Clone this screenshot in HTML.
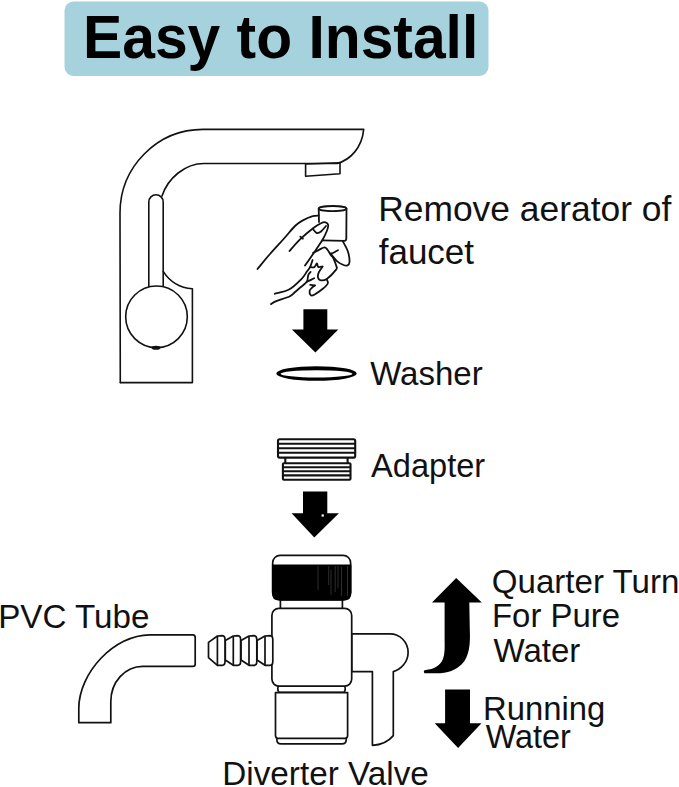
<!DOCTYPE html>
<html><head><meta charset="utf-8">
<style>
html,body{margin:0;padding:0;background:#fff;}
body{width:679px;height:787px;overflow:hidden;position:relative;}
svg{position:absolute;left:0;top:0;}
text{font-family:"Liberation Sans",sans-serif;fill:#111;}
</style></head><body>
<svg width="679" height="787" viewBox="0 0 679 787">
<!-- title -->
<rect x="64.5" y="1.5" width="424" height="74.5" rx="9" fill="#a5d2dc"/>
<text transform="translate(83,57.9) scale(1,1.04)" x="0" y="0" font-size="58.8" font-weight="bold" style="fill:#000">Easy to Install</text>

<g fill="none" stroke="#111" stroke-width="1.6" stroke-linecap="round" stroke-linejoin="round">
<!-- faucet -->
<path d="M120.3,382.6 L120,213 C120,167 157,129.4 203,129.4 L363.7,129.4 C362,148 350,160 337,163.5 L204,163.5 C185,163.5 168,178 162,196"/>
<path d="M148.8,286.5 L148.8,202 A7.2,7.2 0 0 1 163.2,202 L163.2,286.5"/>
<path d="M163.2,271.4 C170,282 180,288 192.4,288.8 L192.4,382.6 L120.3,382.6"/>
<circle cx="156.5" cy="316.8" r="30.8" fill="#fff"/>
<path d="M305.6,164 L340,162.8 L340,173.8 L305.6,176.2 Z"/>
</g>
<ellipse cx="156" cy="347.8" rx="4.5" ry="2" fill="#111"/>

<!-- hand + aerator -->
<g fill="none" stroke="#111" stroke-width="1.8" stroke-linecap="round" stroke-linejoin="round">
<ellipse cx="332.6" cy="208.6" rx="13.9" ry="2.6"/>
<path d="M318.7,208.6 L319,222"/>
<path d="M346.5,208.6 L346.3,239 C346,240.5 345,240.8 344.6,240.8 L322.3,240.4"/>
<path d="M257.5,269.0 C259.6,266.5 265.6,259.0 270.0,254.0 C274.4,249.0 279.4,243.7 283.6,239.0 C287.8,234.3 291.9,229.1 295.0,226.0 C298.1,222.9 299.4,222.2 302.4,220.6 C305.3,219.0 310.0,217.0 312.7,216.2 C315.4,215.3 317.7,215.6 318.7,215.5"/>
<path d="M289.5,251.0 C291.3,249.0 296.3,243.1 300.3,239.2 C304.3,235.3 310.2,230.5 313.7,227.8 C317.1,225.1 319.0,224.1 321.0,223.2 C323.0,222.3 324.3,222.0 325.5,222.3 C326.7,222.6 328.0,223.6 328.2,225.0 C328.4,226.4 327.7,228.7 326.8,231.0 C325.9,233.3 324.4,236.5 323.0,239.0 C321.6,241.5 320.2,243.4 318.5,246.0 C316.8,248.6 314.9,251.3 312.7,254.6 C310.4,257.9 306.3,263.8 305.0,265.6"/>
<path d="M313.2,229.4 C313.8,230.0 315.5,232.7 316.8,233.0 C318.1,233.3 319.5,232.7 321.0,231.5 C322.5,230.3 325.2,226.9 326.0,226.0"/>
<path d="M300.3,236.6 C300.7,236.9 302.5,238.3 302.9,238.7"/>
<path d="M343.0,241.6 C343.8,243.2 346.8,248.1 347.9,251.5 C349.0,254.9 349.6,259.9 349.5,262.3 C349.4,264.7 348.2,265.2 347.1,265.6 C346.0,266.0 344.5,265.4 342.9,264.7 C341.2,264.0 338.8,262.8 337.2,261.4 C335.6,260.0 334.1,257.8 333.0,256.5 C331.9,255.2 331.0,254.1 330.6,253.6"/>
<path d="M330.6,253.6 C331.2,253.4 332.8,253.1 334.0,252.5 C335.2,251.9 337.3,250.7 338.0,250.3"/>
<path d="M313.2,252.8 C314.2,252.3 317.1,250.8 319.0,249.9 C320.9,249.0 323.0,247.5 324.4,247.4 C325.8,247.3 326.2,248.2 327.3,249.5 C328.4,250.8 329.8,253.5 330.8,255.0 C331.8,256.5 332.5,256.4 333.4,258.3 C334.3,260.2 335.9,264.4 336.4,266.3 C336.8,268.2 337.7,267.5 336.1,269.6 C334.5,271.7 329.5,277.1 326.8,278.9 C324.1,280.7 321.7,280.5 320.2,280.2 C318.7,279.9 318.1,278.2 317.9,276.9 C317.7,275.6 318.1,273.9 318.9,272.2 C319.7,270.5 321.9,267.5 322.5,266.6"/>
<path d="M310.2,266.9 C310.9,267.0 313.1,267.9 314.2,267.3 C315.3,266.7 316.2,263.6 316.9,263.5 C317.6,263.4 317.3,266.4 318.2,266.9 C319.1,267.4 321.8,266.7 322.5,266.6"/>
<path d="M307.6,281.5 C308.7,280.9 313.1,278.8 314.2,278.2"/>
<path d="M310.2,284.8 C311.0,284.9 314.1,285.4 314.9,285.5"/>
<path d="M326.8,279.5 C327.0,280.2 328.5,281.9 327.8,283.5 C327.1,285.1 325.1,286.9 322.8,288.8 C320.5,290.7 316.2,293.7 314.2,294.8 C312.2,295.9 311.7,296.1 310.9,295.4 C310.1,294.7 309.4,292.1 309.6,290.8 C309.8,289.5 311.3,288.4 312.2,287.5 C313.1,286.6 314.4,285.8 314.9,285.5"/>
<path d="M274.7,293.8 C277.2,293.1 285.0,291.8 289.5,289.3 C294.0,286.8 298.7,281.8 301.6,278.9 C304.5,275.9 305.5,273.6 306.9,271.6 C308.3,269.6 309.2,268.8 310.2,266.9 C311.1,265.0 312.2,261.1 312.6,260.0"/>
<path d="M271.0,304.1 C271.9,303.6 273.1,302.4 276.2,301.1 C279.3,299.8 286.4,298.0 289.5,296.5 C292.6,295.0 293.0,293.7 295.0,292.0 C297.0,290.3 299.6,288.2 301.6,286.5 C303.6,284.8 305.8,283.4 306.9,281.5 C308.0,279.6 307.7,276.6 308.3,275.0 C308.9,273.4 310.2,272.4 310.6,271.9"/>
</g>

<!-- arrows -->
<g fill="#000">
<polygon points="303.4,309.3 327.3,309.3 327.3,329.5 338.3,329.5 315.4,352.5 291.9,329.5 303.4,329.5"/>
<polygon points="303,491.5 327.3,491.5 327.3,513.3 338.9,513.3 314.3,537.6 291.6,513.3 303,513.3"/>
<polygon points="445.1,689.4 470,689.4 470,723.2 481.5,723.2 458.1,748 434.7,723.2 445.1,723.2"/>
<path d="M456.2,578.1 L481.8,602.4 L469.3,602.4 L469.8,630 C470.5,645 469,657 462,664 C456,670 448,673.3 436,673.3 L425.5,673.3 C423.5,673.3 423.2,670 425.5,669.9 C434,669.3 440,666 443,659 C444.8,654 444.8,648 444.6,640 L444.6,602.4 L432,602.4 Z"/>
</g>

<rect x="321.6" y="514.4" width="2.2" height="2.2" fill="#fff"/>
<!-- washer -->
<path fill="#000" fill-rule="evenodd" d="M276.3,373.5 A40.2,7.3 0 1 0 356.7,373.5 A40.2,7.3 0 1 0 276.3,373.5 Z M280.5,373.8 A36,3.6 0 1 0 352.5,373.8 A36,3.6 0 1 0 280.5,373.8 Z"/>

<!-- adapter -->
<g fill="#fff" stroke="#111" stroke-width="2.1">
<rect x="285.3" y="456" width="62.3" height="9"/>
<rect x="278" y="439.3" width="77.2" height="18.3" rx="1.5"/>
<rect x="282.9" y="463.2" width="67.6" height="16.5" rx="1"/>
</g>
<g stroke="#111" stroke-width="2.1">
<line x1="278" y1="443.8" x2="355.2" y2="443.8"/>
<line x1="278" y1="448.2" x2="355.2" y2="448.2"/>
<line x1="278" y1="452.8" x2="355.2" y2="452.8"/>
<line x1="283" y1="467.3" x2="350.5" y2="467.3"/>
<line x1="283" y1="471.3" x2="350.5" y2="471.3"/>
<line x1="283" y1="475.4" x2="350.5" y2="475.4"/>
</g>

<!-- diverter valve -->
<g fill="#fff" stroke="#111" stroke-width="1.7" stroke-linejoin="round">
<path d="M351.7,633.9 L390,633.9 C400,633.9 408.1,642 408.1,652.5 C408.1,662 401,669.5 393.3,671.6 L393.3,735.6 C388,742 380,745 372.4,745.3 L372.4,671.6 L351.7,671.6 Z"/>
<rect x="280.4" y="597" width="62" height="12"/>
<path d="M279,684 L344,684 Q346.5,689.2 344,692.4 L279,692.4 Q276.5,689.2 279,684 Z"/>
<path d="M276.9,736 L346.2,736 L346.2,740 Q346.2,743.9 342,743.9 L281,743.9 Q276.9,743.9 276.9,740 Z"/>
<path d="M275.5,692.6 L347.6,692.6 L347.6,735.5 Q347.6,738.3 345,738.3 L278,738.3 Q275.5,738.3 275.5,735.5 Z"/>
<rect x="271.9" y="608.4" width="79.8" height="77.7" rx="7"/>
<rect x="272.7" y="555.3" width="77.9" height="44.5" rx="7.5"/>
</g>
<path d="M271.9,564.6 L351.4,564.6 L351.4,593 Q351.4,600.6 344,600.6 L279,600.6 Q271.9,600.6 271.9,593 Z" fill="#000"/>

<g stroke="#777" stroke-width="0.7" opacity="0.55"><line x1="318.0" y1="566" x2="318.0" y2="590"/><line x1="328.7" y1="566" x2="328.7" y2="585"/><line x1="331.0" y1="570" x2="331.0" y2="595"/><line x1="335.2" y1="566" x2="335.2" y2="592"/><line x1="338.0" y1="566" x2="338.0" y2="588"/><line x1="341.5" y1="567" x2="341.5" y2="596"/><line x1="347.5" y1="566" x2="347.5" y2="596"/></g>
<!-- barb -->
<g fill="#fff" stroke="#111" stroke-width="1.7" stroke-linejoin="round">
<path d="M257.0,640.6 L265.0,636 L270.0,635.6 Q272.8,635.8 272.8,639.5 L272.8,661.5 Q272.8,665.3 270.0,665.3 L265.0,665.3 L257.0,660.0 Z"/>
<path d="M265.0,636 L265.0,665.3"/>
<path d="M241.0,640.6 L249.0,636 L254.0,635.6 Q256.8,635.8 256.8,639.5 L256.8,661.5 Q256.8,665.3 254.0,665.3 L249.0,665.3 L241.0,660.0 Z"/>
<path d="M249.0,636 L249.0,665.3"/>
<path d="M225.3,640.6 L233.3,636 L237.8,635.6 Q240.6,635.8 240.6,639.5 L240.6,661.5 Q240.6,665.3 237.8,665.3 L233.3,665.3 L225.3,660.0 Z"/>
<path d="M233.3,636 L233.3,665.3"/>
<path d="M208.5,642.4 L217.4,636 L222.2,635.6 Q225.0,635.8 225.0,639.5 L225.0,661.5 Q225.0,665.3 222.2,665.3 L217.4,665.3 L208.5,657.7 Z"/>
<path d="M217.4,636 L217.4,665.3"/>
</g>

<!-- PVC tube -->
<path d="M78.8,722.7 L78.8,708 C79,673 114,634.8 150,634.8 L193,634.8 Q195.2,634.8 195.2,637.5 L195.2,664 Q195.2,666.4 193,666.4 L142.8,666.4 C125,666.4 110.8,682 110.8,701.7 L110.8,722.7 Z" fill="none" stroke="#111" stroke-width="1.7" stroke-linejoin="round"/>

<!-- labels -->
<text x="378.2" y="221.3" font-size="35.4">Remove aerator of</text>
<text x="378.7" y="264.3" font-size="35">faucet</text>
<text x="370.2" y="385.4" font-size="33">Washer</text>
<text x="371.1" y="477" font-size="32.6">Adapter</text>
<text x="491.8" y="593" font-size="33.1">Quarter Turn</text>
<text x="492" y="627.2" font-size="32.9">For Pure</text>
<text x="493.5" y="661.7" font-size="33">Water</text>
<text x="483.1" y="720" font-size="32.8">Running</text>
<text x="485.7" y="748" font-size="32.4">Water</text>
<text x="-1.8" y="627.7" font-size="33.2">PVC Tube</text>
<text x="222.2" y="784.7" font-size="33.3">Diverter Valve</text>
</svg>
</body></html>
